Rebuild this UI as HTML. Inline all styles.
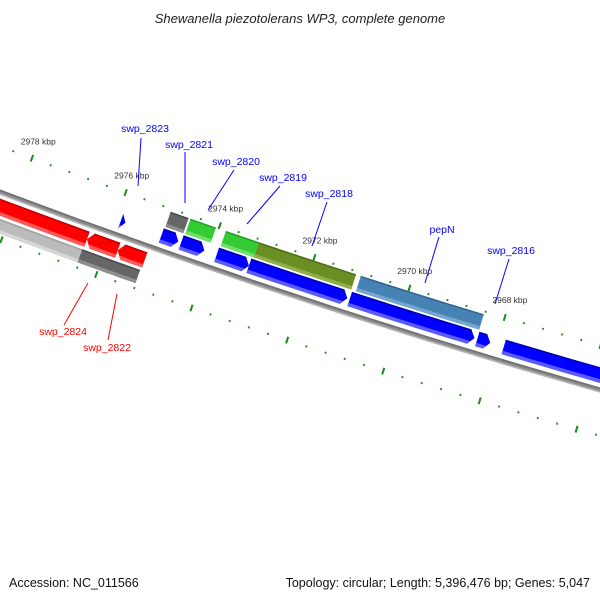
<!DOCTYPE html>
<html><head><meta charset="utf-8">
<style>
html,body{margin:0;padding:0;background:#fff;}
svg{display:block;font-family:"Liberation Sans","DejaVu Sans",sans-serif;}
</style></head>
<body>
<svg id="map" width="600" height="600" viewBox="0 0 600 600" xmlns="http://www.w3.org/2000/svg">
<rect width="600" height="600" fill="#fff"/>
<text x="300" y="23" text-anchor="middle" font-size="13" font-style="italic" fill="#222">Shewanella piezotolerans WP3, complete genome</text>
<g id="plot"></g>
<text x="9" y="587" font-size="12.5" fill="#111">Accession: NC_011566</text>
<text x="590" y="587" text-anchor="end" font-size="12.5" fill="#111">Topology: circular; Length: 5,396,476 bp; Genes: 5,047</text>
</svg>
<script>
// ---- data (positions in kbp) ----
const fwdCdsStart = [2975.04, 2974.62, 2975.90, 2973.87, 2973.19, 2971.07, 2968.40, 2967.85];
const fwdCdsEnd   = [2974.68, 2974.13, 2975.80, 2973.19, 2971.12, 2968.46, 2968.13, 2965.00];
const fwdCogStart = [2975.02, 2974.60, 2973.85, 2973.15, 2971.00];
const fwdCogEnd   = [2974.64, 2974.06, 2973.15, 2971.10, 2968.42];
const fwdCogColor = ["#666666", "#33cc33", "#33cc33", "#6b8e23", "#4682b4"];
const revCdsStart = [2981.00, 2976.41, 2975.76];
const revCdsEnd   = [2976.41, 2975.76, 2975.19];
const revCogStart = [2981.00, 2976.43];
const revCogEnd   = [2976.43, 2975.21];
const revCogColor = ["#bbbbbb", "#666666"];
const tickLabels  = [2978, 2976, 2974, 2972, 2970, 2968];
const geneNames   = ["swp_2823","swp_2821","swp_2820","swp_2819","swp_2818","pepN","swp_2816","swp_2824","swp_2822"];
const geneLabelX  = [145, 189, 236, 283, 329, 442, 511, 63, 107];
const geneLabelY  = [132, 148, 165, 181, 197, 233, 254, 335, 351];
const geneLineFrom= [[141,138],[185,152],[234,170],[280,186],[327,202],[439,237],[509,259],[64,325],[108,340]];
const geneLineTo  = [[138,186],[185,203],[208,210],[247,224],[312,246],[425,283],[495,304],[88,283],[117,294]];
const geneStrand  = ["f","f","f","f","f","f","f","r","r"];

// ---- geometry ----
const CX = 2673, CY = -6903, R = 7582;
const A0 = 108.99, DEG_PER_KBP = 0.3792;
function ang(k){ return (A0 + (k - 2974) * DEG_PER_KBP) * Math.PI / 180; }
function pt(k, off){ const a = ang(k), r = R + off; return [CX + r*Math.cos(a), CY + r*Math.sin(a)]; }
const NS = "http://www.w3.org/2000/svg";
const plot = document.getElementById('plot');
const defs = document.createElementNS(NS, 'defs');
plot.appendChild(defs);
function mk(tag, attrs, parent){
  const e = document.createElementNS(NS, tag);
  for (const k in attrs) e.setAttribute(k, attrs[k]);
  (parent || plot).appendChild(e);
  return e;
}
function bandPts(k1, k2, o1, o2){
  const pts = [], n = 12;
  for (let i=0;i<=n;i++) pts.push(pt(k1 + (k2-k1)*i/n, o1));
  for (let i=n;i>=0;i--) pts.push(pt(k1 + (k2-k1)*i/n, o2));
  return pts;
}
function shapePts(k1, k2, o1, o2, arrow){
  // k1 = start, k2 = tip end; arrow head of 0.1 kbp
  if (!arrow) return bandPts(k1, k2, o1, o2);
  const dir = k2 < k1 ? -1 : 1;
  let hk = k2 - dir*0.11;
  if ((hk - k1)*dir < 0) hk = k1;
  const pts = [], n = 10;
  for (let i=0;i<=n;i++) pts.push(pt(k1 + (hk-k1)*i/n, o1));
  pts.push(pt(k2, (o1+o2)/2));
  for (let i=n;i>=0;i--) pts.push(pt(k1 + (hk-k1)*i/n, o2));
  return pts;
}
const ps = p => p.map(q => q[0].toFixed(2)+','+q[1].toFixed(2)).join(' ');
let clipId = 0;
function feature(name, k1, k2, o1, o2, color, light, dark, arrow){
  const g = mk('g', {});
  
  
  const pts = shapePts(k1, k2, o1, o2, arrow);
  const id = 'c' + (clipId++);
  const cp = mk('clipPath', {id: id}, defs);
  mk('polygon', {points: ps(pts)}, cp);
  mk('polygon', {points: ps(pts), fill: color}, g);
  const lo = Math.min(k1,k2) - 0.2, hi = Math.max(k1,k2) + 0.2;
  mk('polygon', {points: ps(bandPts(lo, hi, o2-3.5, o2+1)), fill: light, 'clip-path': 'url(#'+id+')'}, g);
  mk('polygon', {points: ps(bandPts(lo, hi, o1-1, o1+1.5)), fill: dark, 'clip-path': 'url(#'+id+')'}, g);
}

// backbone
const bb = mk('g', {});


mk('polygon', {points: ps(bandPts(2984, 2962, -2.5, 2.5)), fill: '#8a8a8a'}, bb);
mk('polygon', {points: ps(bandPts(2984, 2962, -2.5, -1)), fill: '#6e6e6e'}, bb);
mk('polygon', {points: ps(bandPts(2984, 2962, 1, 2.5)), fill: '#b5b5b5'}, bb);

// features
for (let i=0;i<fwdCogStart.length;i++)
  feature('forward-cog-feature', fwdCogStart[i], fwdCogEnd[i], -40, -24, fwdCogColor[i],
    fwdCogColor[i]==="#33cc33" ? "#6fe06f" : fwdCogColor[i]==="#6b8e23" ? "#8fae4f" : fwdCogColor[i]==="#4682b4" ? "#76a6d0" : "#8e8e8e",
    fwdCogColor[i]==="#33cc33" ? "#22a022" : fwdCogColor[i]==="#6b8e23" ? "#4f6d16" : fwdCogColor[i]==="#4682b4" ? "#2f6690" : "#4a4a4a", false);
for (let i=0;i<fwdCdsStart.length;i++)
  feature('forward-cds-' + i, fwdCdsStart[i], fwdCdsEnd[i], -22, -7, '#0000ff', '#5a5aff', '#0000b0', true);
for (let i=0;i<revCdsStart.length;i++)
  feature('reverse-cds-' + i, revCdsEnd[i], revCdsStart[i], 6, 22, '#ff0000', '#ff5a5a', '#c00000', true);
for (let i=0;i<revCogStart.length;i++)
  feature('reverse-cog-feature', revCogStart[i], revCogEnd[i], 25, 39, revCogColor[i],
    revCogColor[i]==="#bbbbbb" ? "#d6d6d6" : "#8e8e8e", revCogColor[i]==="#bbbbbb" ? "#a0a0a0" : "#4a4a4a", false);

// ticks
const tg = mk('g', {});


for (let m=0; m<=60; m++){
  const k = 2984 - m*0.4;
  const major = Math.abs(Math.round(k/2)*2 - k) < 0.01;
  for (const base of [-43, 44]){
    const half = major ? 3.5 : 1;
    const a = pt(k, base-half), b = pt(k, base+half);
    mk('line', {x1:a[0],y1:a[1],x2:b[0],y2:b[1],stroke:'#1a8a1a','stroke-width':major?2:1.8}, tg);
  }
}
for (let i=0;i<tickLabels.length;i++){
  const p = pt(tickLabels[i], -61);
  const t = mk('text', {x:p[0], y:p[1]+3, 'text-anchor':'middle', 'font-size':'8.5', fill:'#333'});
  
  
  t.textContent = tickLabels[i] + ' kbp';
}

// gene labels
for (let i=0;i<geneNames.length;i++){
  const col = geneStrand[i]==='f' ? '#0000ff' : '#ff0000';
  const l = mk('line', {x1:geneLineFrom[i][0], y1:geneLineFrom[i][1], x2:geneLineTo[i][0], y2:geneLineTo[i][1], stroke:col, 'stroke-width':1});
  
  
  const t = mk('text', {x:geneLabelX[i], y:geneLabelY[i], 'text-anchor':'middle', 'font-size':'10.5', fill:col});
  
  
  t.textContent = geneNames[i];
}
</script>
</body></html>
